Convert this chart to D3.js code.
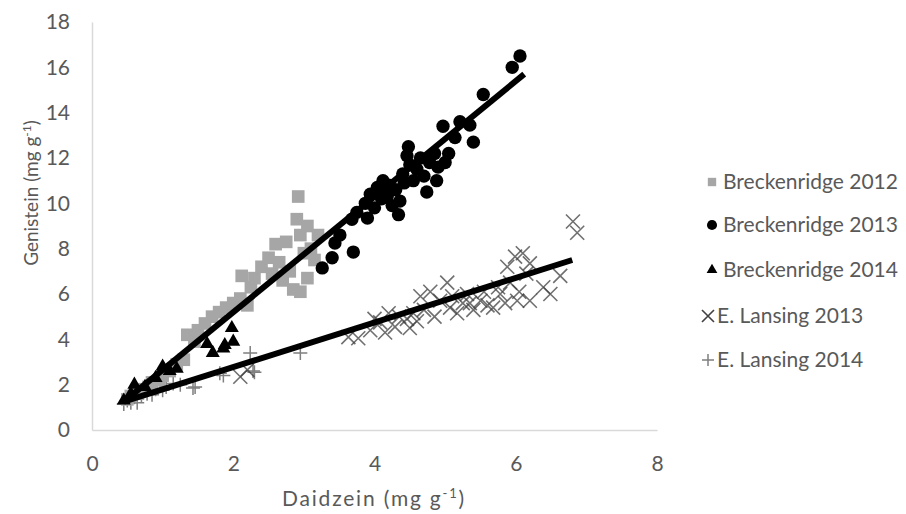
<!DOCTYPE html>
<html>
<head>
<meta charset="utf-8">
<script src="https://cdn.jsdelivr.net/npm/d3@7"></script>
<style>
  body { margin: 0; background: #fff; }
  text { font-family: Lato, "Open Sans", sans-serif; fill: #595959; }
</style>
</head>
<body>
<div id="chart"></div>
<script>
// chart values
var xTicks = [0, 2, 4, 6, 8];
var yTicks = [0, 2, 4, 6, 8, 10, 12, 14, 16, 18];

var seriesNames = ["Breckenridge 2012", "Breckenridge 2013", "Breckenridge 2014",
  "E. Lansing 2013", "E. Lansing 2014"];

var breck2012 = [[0.5,1.35],[0.55,1.5],[0.65,1.6],[0.7,1.8],[0.8,1.9],[0.85,2.1],[0.95,2.2],
  [1.0,2.4],[1.1,2.6],[1.2,2.9],[1.3,3.1],[1.35,4.2],[1.45,3.9],[1.5,4.4],[1.6,4.7],
  [1.7,5.0],[1.8,5.2],[1.9,5.4],[2.0,5.6],[2.1,5.8],[2.12,6.8],[2.2,5.5],[2.25,6.3],
  [2.3,6.7],[2.4,7.2],[2.5,7.6],[2.55,6.9],[2.6,8.2],[2.65,7.4],[2.7,6.6],[2.75,8.3],
  [2.8,7.0],[2.85,6.2],[2.9,9.3],[2.92,10.3],[2.95,8.6],[3.0,7.8],[3.05,9.0],[3.1,8.0],
  [2.95,6.1],[3.15,7.5],[3.2,8.6],[3.05,6.7]];

var breck2013 = [[3.26,7.15],[3.4,7.6],[3.44,8.25],[3.51,8.6],[3.7,7.85],[3.68,9.3],
  [3.75,9.6],[3.87,10.0],[3.9,9.35],[3.94,10.4],[4.0,9.8],[4.04,10.7],[4.1,10.2],
  [4.12,11.0],[4.18,10.3],[4.2,10.8],[4.25,9.9],[4.3,10.6],[4.34,9.5],[4.36,10.1],
  [4.4,11.3],[4.42,10.9],[4.46,12.1],[4.48,12.5],[4.5,11.7],[4.55,11.0],[4.6,11.5],
  [4.65,12.0],[4.7,11.2],[4.74,10.5],[4.78,11.8],[4.85,12.2],[4.88,11.0],[4.9,11.6],
  [5.0,11.8],[4.97,13.4],[5.05,12.2],[5.14,12.9],[5.21,13.6],[5.35,13.45],[5.4,12.7],
  [5.54,14.8],[5.95,16.0],[6.06,16.5]];

var breck2014 = [[0.45,1.3],[0.55,1.6],[0.6,2.0],[0.75,1.9],[0.9,2.3],[1.0,2.8],[1.1,2.6],
  [1.2,2.7],[1.63,3.8],[1.71,3.4],[1.86,3.6],[1.88,3.75],[1.98,4.5],[2.0,3.9]];

var lansing2013 = [[2.1,2.35],[2.2,2.65],[3.63,4.1],[3.77,4.05],[3.94,4.4],[4.0,4.9],
  [4.08,4.75],[4.15,4.3],[4.2,5.15],[4.29,4.55],[4.35,5.0],[4.46,4.9],[4.5,4.5],
  [4.55,5.15],[4.6,4.8],[4.65,5.9],[4.7,5.3],[4.79,6.1],[4.85,5.0],[4.93,5.7],[5.03,6.5],
  [5.07,5.4],[5.1,5.9],[5.17,5.15],[5.25,5.6],[5.31,6.0],[5.35,5.6],[5.4,5.3],[5.5,5.7],
  [5.55,6.1],[5.6,5.5],[5.68,5.4],[5.75,6.3],[5.78,6.0],[5.85,5.6],[5.88,7.2],[5.92,6.5],
  [5.99,7.65],[6.02,5.7],[6.05,6.1],[6.1,7.8],[6.15,6.9],[6.2,7.35],[6.2,5.7],[6.39,6.3],
  [6.49,6.0],[6.63,6.8],[6.81,9.2],[6.87,8.7]];

var lansing2014 = [[0.45,1.15],[0.5,1.3],[0.55,1.2],[0.6,1.45],[0.64,1.2],[0.7,1.5],
  [0.78,1.6],[0.85,1.55],[0.9,1.8],[1.0,1.75],[1.05,1.9],[1.15,2.05],[1.25,2.0],
  [1.43,1.85],[1.46,1.9],[1.81,2.5],[1.86,2.4],[2.24,3.4],[2.28,2.6],[2.3,2.55],[2.95,3.4]];

// linear trend lines (end points)
var trendBreck = [[0.45, 1.25], [6.12, 15.7]];
var trendLansing = [[0.45, 1.25], [6.8, 7.5]];

var svgWidth = 906;
var svgHeight = 514;

var margin = { top: 22, right: 249, bottom: 84, left: 92 };
var width = svgWidth - margin.left - margin.right;
var height = svgHeight - margin.top - margin.bottom;

var svg = d3.select("#chart")
  .append("svg")
  .attr("width", svgWidth)
  .attr("height", svgHeight);

var chartGroup = svg.append("g")
  .attr("transform", `translate(${margin.left}, ${margin.top})`);

var xScale = d3.scaleLinear().domain([0, 8]).range([0, width]);
var yScale = d3.scaleLinear().domain([0, 18]).range([height, 0]);

// axes
var xAxis = chartGroup.append("g")
  .attr("transform", `translate(0, ${height})`)
  .call(d3.axisBottom(xScale).tickValues(xTicks).tickSize(0).tickPadding(26));
var yAxis = chartGroup.append("g")
  .call(d3.axisLeft(yScale).tickValues(yTicks).tickSize(0).tickPadding(22));

[xAxis, yAxis].forEach(function(ax) {
  ax.select(".domain").attr("stroke", "#d9d9d9").attr("stroke-width", 1.5);
  ax.selectAll("text")
    .style("font-family", "Lato, 'Open Sans', sans-serif")
    .style("font-size", "21px")
    .attr("fill", "#595959");
});

// marker drawing helpers
function crossPath(s) {
  return `M${-s},${-s}L${s},${s}M${-s},${s}L${s},${-s}`;
}
function plusPath(s) {
  return `M${-s},0L${s},0M0,${-s}L0,${s}`;
}

var squareSym = d3.symbol().type(d3.symbolSquare).size(160)();
var circleSym = d3.symbol().type(d3.symbolCircle).size(140)();
var triSym = d3.symbol().type(d3.symbolTriangle).size(85)();

function drawSeries(data, path, fill, stroke, strokeWidth, opacity) {
  chartGroup.append("g").selectAll("path")
    .data(data)
    .enter()
    .append("path")
    .attr("transform", d => `translate(${xScale(d[0])}, ${yScale(d[1])})`)
    .attr("d", path)
    .attr("fill", fill)
    .attr("stroke", stroke)
    .attr("stroke-width", strokeWidth)
    .attr("opacity", opacity);
}

drawSeries(lansing2014, plusPath(7), "none", "#7f7f7f", 1.5, 1);
drawSeries(lansing2013, crossPath(7), "none", "#404040", 1.6, 0.75);
drawSeries(breck2012, squareSym, "#a6a6a6", "none", 0, 1);
drawSeries(breck2014, triSym, "#000", "none", 0, 1);
drawSeries(breck2013, circleSym, "#000", "none", 0, 1);

// trend lines
var line = d3.line().x(d => xScale(d[0])).y(d => yScale(d[1]));
[trendBreck, trendLansing].forEach(function(t) {
  chartGroup.append("path")
    .attr("d", line(t))
    .attr("stroke", "#000")
    .attr("stroke-width", 6)
    .attr("fill", "none");
});

// axis titles
var xTitle = svg.append("text")
  .attr("x", 374)
  .attr("y", 506)
  .attr("text-anchor", "middle")
  .style("font-size", "21px")
  .style("letter-spacing", "1.8px");
xTitle.append("tspan").text("Daidzein (mg g");
xTitle.append("tspan").attr("dy", -8).style("font-size", "13px").text("-1");
xTitle.append("tspan").attr("dy", 8).text(")");

var yTitle = svg.append("text")
  .attr("transform", "translate(38, 193) rotate(-90)")
  .attr("text-anchor", "middle")
  .style("font-size", "19px");
yTitle.append("tspan").text("Genistein (mg g");
yTitle.append("tspan").attr("dy", -7).style("font-size", "12px").text("-1");
yTitle.append("tspan").attr("dy", 7).text(")");

// legend
var legendY = [182, 225, 270, 316, 360];
var legend = svg.append("g");
var legendMarks = [
  { d: d3.symbol().type(d3.symbolSquare).size(70)(), fill: "#a6a6a6", stroke: "none", w: 0 },
  { d: d3.symbol().type(d3.symbolCircle).size(80)(), fill: "#000", stroke: "none", w: 0 },
  { d: d3.symbol().type(d3.symbolTriangle).size(50)(), fill: "#000", stroke: "none", w: 0 },
  { d: crossPath(6), fill: "none", stroke: "#404040", w: 1.6 },
  { d: plusPath(6), fill: "none", stroke: "#7f7f7f", w: 1.5 }
];
var legendMarkX = [712, 712, 712, 708, 708];
var legendTextX = [723, 723, 723, 717, 717];

seriesNames.forEach(function(name, i) {
  legend.append("path")
    .attr("transform", `translate(${legendMarkX[i]}, ${legendY[i]})`)
    .attr("d", legendMarks[i].d)
    .attr("fill", legendMarks[i].fill)
    .attr("stroke", legendMarks[i].stroke)
    .attr("stroke-width", legendMarks[i].w);
  legend.append("text")
    .attr("x", legendTextX[i])
    .attr("y", legendY[i])
    .attr("dy", "0.35em")
    .style("font-size", "21px")
    .text(name);
});
</script>
</body>
</html>
